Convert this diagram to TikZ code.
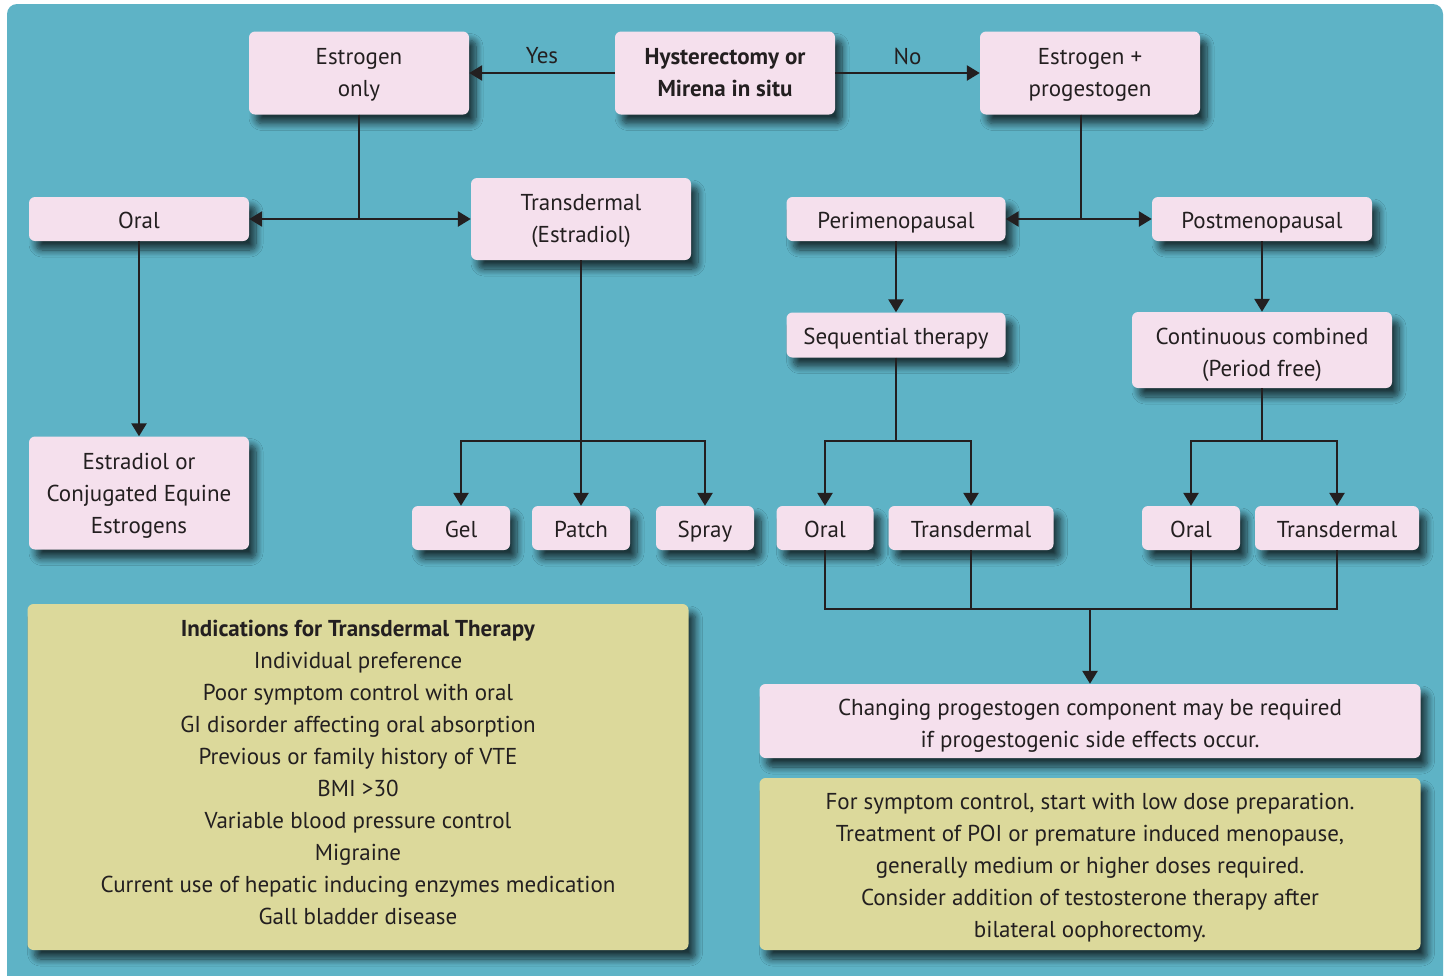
\documentclass[tikz,border=0pt]{standalone}
\usepackage{fontspec}
\setmainfont{PT Sans}
\usetikzlibrary{arrows.meta,shadows.blur}
\definecolor{bg}{HTML}{5EB3C6}
\definecolor{pk}{HTML}{F5E0ED}
\definecolor{yl}{HTML}{DCD99B}
\definecolor{ink}{HTML}{231F20}
\begin{document}
\begin{tikzpicture}[x=1pt,y=-1pt,
  txt/.style={font=\fontsize{23}{32}\selectfont, text=ink},
  box/.style={txt, fill=pk, rounded corners=6pt, align=center, inner sep=0pt,
    blur shadow={shadow xshift=7pt, shadow yshift=-9pt, shadow blur radius=7pt, shadow blur steps=10, shadow opacity=70}},
  ybox/.style={box, fill=yl},
  one/.style={text height=21pt, text depth=2pt},
  conn/.style={draw=ink, line width=2.6pt},
  arr/.style={conn, -{Triangle[length=13pt,width=15pt]}}
]
\useasboundingbox (0,0) rectangle (1446,975);
\fill[white] (0,0) rectangle (1446,975);
\fill[bg, rounded corners=10pt] (7,4) rectangle (1443,990);

% top row
\node[box, minimum width=220pt, minimum height=83pt, text height=50pt, text depth=4pt] (eo) at (359,73) {Estrogen\\only};
\node[box, minimum width=220pt, minimum height=83pt, text height=50pt, text depth=4pt, font=\fontsize{23}{32}\selectfont\bfseries] (hy) at (725,73) {Hysterectomy or\\Mirena in situ};
\node[box, minimum width=220pt, minimum height=83pt, text height=50pt, text depth=4pt] (ep) at (1090,73) {Estrogen +\\progestogen};

% second row
\node[box, one, minimum width=220pt, minimum height=44pt] (oral) at (139,219) {Oral};
\node[box, minimum width=220pt, minimum height=82pt, text height=50pt, text depth=4pt] (td) at (581,219) {Transdermal\\(Estradiol)};
\node[box, one, minimum width=219pt, minimum height=44pt] (peri) at (896,219) {Perimenopausal};
\node[box, one, minimum width=220pt, minimum height=44pt] (post) at (1262,219) {Postmenopausal};

% third row
\node[box, one, minimum width=219pt, minimum height=45pt] (seq) at (896,335) {Sequential therapy};
\node[box, minimum width=260pt, minimum height=76pt, text height=54pt, text depth=2pt] (cont) at (1262,350) {Continuous combined\\(Period free)};

% fourth row
\node[box, minimum width=220pt, minimum height=113pt, text height=84pt, text depth=4pt] (ec) at (139,493) {Estradiol or\\Conjugated Equine\\Estrogens};
\node[box, one, minimum width=98pt, minimum height=44pt] (gel) at (461,528) {Gel};
\node[box, one, minimum width=98pt, minimum height=44pt] (patch) at (581,528) {Patch};
\node[box, one, minimum width=98pt, minimum height=44pt] (spray) at (705,528) {Spray};
\node[box, one, minimum width=97pt, minimum height=44pt] (oral2) at (825,528) {Oral};
\node[box, one, minimum width=165pt, minimum height=44pt] (td2) at (971,528) {Transdermal};
\node[box, one, minimum width=98pt, minimum height=44pt] (oral3) at (1191,528) {Oral};
\node[box, one, minimum width=164pt, minimum height=44pt] (td3) at (1337,528) {Transdermal};

% bottom
\node[box, minimum width=661pt, minimum height=74pt, text height=54pt, text depth=2pt] (chg) at (1090,721) {Changing progestogen component may be required\\if progestogenic side effects occur.};
\node[ybox, minimum width=661pt, minimum height=172pt, text height=148pt, text depth=2pt] (notes) at (1090,864) {For symptom control, start with low dose preparation.\\Treatment of POI or premature induced menopause,\\generally medium or higher doses required.\\Consider addition of testosterone therapy after\\bilateral oophorectomy.};
\node[ybox, minimum width=661pt, minimum height=346pt, text height=300pt, text depth=6pt] (ind) at (358,777) {\textbf{Indications for Transdermal Therapy}\\Individual preference\\Poor symptom control with oral\\GI disorder affecting oral absorption\\Previous or family history of VTE\\BMI >30\\Variable blood pressure control\\Migraine\\Current use of hepatic inducing enzymes medication\\Gall bladder disease};

% connectors
\draw[arr] (hy.west) -- (eo.east) node[midway, txt, yshift=17pt] {Yes};
\draw[arr] (hy.east) -- (ep.west) node[midway, txt, yshift=17pt] {No};

\draw[arr] (eo.south) |- (oral.east);
\draw[arr] (eo.south) |- (td.west);
\draw[arr] ([xshift=-9pt]ep.south) |- (peri.east);
\draw[arr] ([xshift=-9pt]ep.south) |- (post.west);

\draw[arr] (oral.south) -- (ec.north);

\coordinate (tdj) at (581,441);
\draw[arr] (td.south) -- (td.south |- tdj) -| (gel.north);
\draw[arr] (td.south |- tdj) -| (spray.north);
\draw[arr] (td.south) -- (patch.north);

\draw[arr] (peri.south) -- (seq.north);
\draw[arr] (post.south) -- (cont.north);

\draw[arr] (seq.south) -- (seq.south |- tdj) -| (oral2.north);
\draw[arr] (seq.south |- tdj) -| (td2.north);
\draw[arr] (cont.south) -- (cont.south |- tdj) -| (oral3.north);
\draw[arr] (cont.south |- tdj) -| (td3.north);

\coordinate (mj) at (1090,609);
\draw[conn] (oral2.south) -- (oral2.south |- mj) -- (td3.south |- mj) -- (td3.south);
\draw[conn] (td2.south) -- (td2.south |- mj);
\draw[conn] (oral3.south) -- (oral3.south |- mj);
\draw[arr] (chg.north |- mj) -- (chg.north);
\end{tikzpicture}
\end{document}
